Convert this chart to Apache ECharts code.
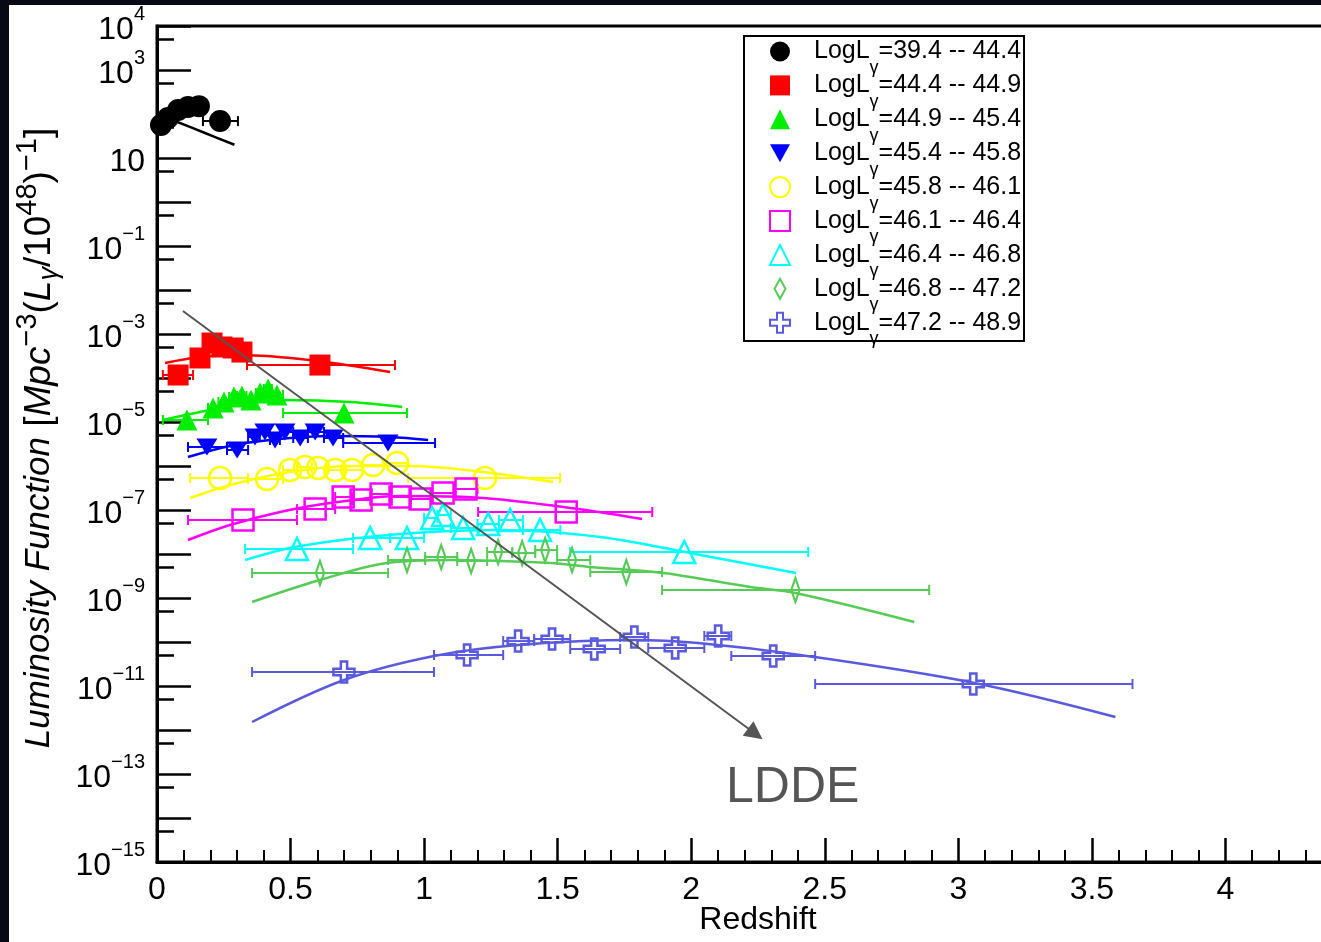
<!DOCTYPE html>
<html><head><meta charset="utf-8">
<script src="https://cdn.jsdelivr.net/npm/echarts@6/dist/echarts.min.js"></script>
<style>
html,body{margin:0;padding:0;background:#070914;width:1321px;height:942px;overflow:hidden;}
#c{position:absolute;left:9px;top:5px;width:1312px;height:937px;background:#fff;}
</style></head><body><div id="c"></div>
<script>
// ---------- legend / band labels ----------
const bandNames = ['39.4 -- 44.4','44.4 -- 44.9','44.9 -- 45.4','45.4 -- 45.8','45.8 -- 46.1','46.1 -- 46.4','46.4 -- 46.8','46.8 -- 47.2','47.2 -- 48.9'];

// ---------- axis ticks ----------
const xTickLabels = [0,0.5,1,1.5,2,2.5,3,3.5,4];
const yLabelValues = [1e4,1e3,1e1,1e-1,1e-3,1e-5,1e-7,1e-9,1e-11,1e-13,1e-15];
const yMajorTicks = [1e4,1e3,1e2,1e1,1e0,1e-1,1e-2,1e-3,1e-4,1e-5,1e-6,1e-7,1e-8,1e-9,1e-10,1e-11,1e-12,1e-13,1e-14,1e-15];
const yMinorTicks = [5e3,5e2,5e1,5e0,5e-1,5e-2,5e-3,5e-4,5e-5,5e-6,5e-7,5e-8,5e-9,5e-10,5e-11,5e-12,5e-13,5e-14,5e-15];

// ---------- band 1 : LogL 39.4 -- 44.4 ----------
const b1X = [0.015, 0.041, 0.079, 0.116, 0.157, 0.236];
const b1Y = [56, 81, 123, 145, 151, 69];
const b1Lo = [0.0, 0.028, 0.06, 0.097, 0.136, 0.172];
const b1Hi = [0.028, 0.06, 0.097, 0.136, 0.172, 0.303];
const b1FitX = [0.06, 0.175, 0.29];
const b1FitY = [72, 38, 20];
// ---------- band 2 ----------
const b2X = [0.079, 0.161, 0.206, 0.243, 0.285, 0.318, 0.610];
const b2Y = [1.17e-4, 2.85e-4, 6.24e-4, 5.07e-4, 4.81e-4, 3.89e-4, 1.97e-4];
const b2Lo = [0.022, 0.135, 0.185, 0.225, 0.265, 0.30, 0.337];
const b2Hi = [0.135, 0.185, 0.225, 0.265, 0.30, 0.337, 0.891];
const b2FitX = [0.030, 0.161, 0.311, 0.498, 0.685, 0.873];
const b2FitY = [2.19e-4, 3.0e-4, 3.33e-4, 2.85e-4, 2.08e-4, 1.37e-4];
// ---------- band 3 ----------
const b3X = [0.112, 0.210, 0.251, 0.288, 0.318, 0.352, 0.386, 0.416, 0.449, 0.700];
const b3Y = [1.11e-5, 2.08e-5, 2.85e-5, 3.70e-5, 3.90e-5, 3.16e-5, 4.56e-5, 5.62e-5, 4.11e-5, 1.60e-5];
const b3Lo = [0.022, 0.191, 0.23, 0.27, 0.30, 0.335, 0.37, 0.40, 0.43, 0.472];
const b3Hi = [0.191, 0.23, 0.27, 0.30, 0.335, 0.37, 0.40, 0.43, 0.472, 0.936];
const b3FitX = [0.022, 0.161, 0.348, 0.472, 0.723, 0.918];
const b3FitY = [1.11e-5, 1.69e-5, 2.70e-5, 3.16e-5, 2.85e-5, 2.19e-5];
// ---------- band 4 ----------
const b4X = [0.187, 0.300, 0.367, 0.404, 0.442, 0.479, 0.536, 0.592, 0.659, 0.865];
const b4Y = [2.70e-6, 2.31e-6, 4.56e-6, 5.93e-6, 3.90e-6, 5.93e-6, 4.33e-6, 5.93e-6, 4.33e-6, 3.33e-6];
const b4Lo = [0.116, 0.262, 0.341, 0.385, 0.423, 0.46, 0.51, 0.565, 0.625, 0.697];
const b4Hi = [0.262, 0.341, 0.385, 0.423, 0.46, 0.51, 0.565, 0.625, 0.697, 1.041];
const b4FitX = [0.116, 0.273, 0.423, 0.648, 0.873, 1.015];
const b4FitY = [1.60e-6, 2.85e-6, 3.90e-6, 4.81e-6, 4.56e-6, 3.90e-6];
// ---------- band 5 ----------
const b5X = [0.236, 0.412, 0.498, 0.554, 0.603, 0.667, 0.730, 0.809, 0.899, 1.228];
const b5Y = [5.33e-7, 5.07e-7, 8.11e-7, 9.48e-7, 9.02e-7, 8.11e-7, 8.11e-7, 1.05e-6, 1.17e-6, 5.33e-7];
const b5Lo = [0.124, 0.341, 0.472, 0.525, 0.58, 0.635, 0.70, 0.77, 0.85, 0.94];
const b5Hi = [0.341, 0.472, 0.525, 0.58, 0.635, 0.70, 0.77, 0.85, 0.94, 1.509];
const b5FitX = [0.124, 0.236, 0.348, 0.498, 0.723, 0.948, 1.221, 1.483];
const b5FitY = [1.87e-7, 3.16e-7, 4.81e-7, 7.31e-7, 1.0e-6, 1.0e-6, 7.31e-7, 4.33e-7];
// ---------- band 6 ----------
const b6X = [0.322, 0.592, 0.697, 0.764, 0.839, 0.910, 0.985, 1.071, 1.157, 1.532];
const b6Y = [5.93e-8, 1.05e-7, 1.97e-7, 1.69e-7, 2.31e-7, 1.97e-7, 1.78e-7, 2.43e-7, 3.0e-7, 9.02e-8];
const b6Lo = [0.116, 0.524, 0.667, 0.73, 0.80, 0.875, 0.95, 1.03, 1.115, 1.202];
const b6Hi = [0.524, 0.667, 0.73, 0.80, 0.875, 0.95, 1.03, 1.115, 1.20, 1.854];
const b6FitX = [0.116, 0.273, 0.461, 0.648, 0.910, 1.161, 1.521, 1.816];
const b6FitY = [2.08e-8, 4.56e-8, 9.02e-8, 1.44e-7, 2.08e-7, 1.97e-7, 1.17e-7, 6.24e-8];
// ---------- band 7 ----------
const b7X = [0.524, 0.798, 0.936, 1.030, 1.071, 1.146, 1.240, 1.322, 1.434, 1.974];
const b7Y = [1.30e-8, 2.31e-8, 2.31e-8, 6.58e-8, 7.69e-8, 3.90e-8, 4.81e-8, 5.93e-8, 3.51e-8, 1.11e-8];
const b7Lo = [0.330, 0.734, 0.873, 1.0, 1.05, 1.1, 1.2, 1.28, 1.37, 1.547];
const b7Hi = [0.734, 0.873, 1.0, 1.05, 1.1, 1.2, 1.28, 1.37, 1.51, 2.438];
const b7FitX = [0.330, 0.536, 0.910, 1.285, 1.659, 2.034, 2.393];
const b7FitY = [7.31e-9, 1.52e-8, 2.85e-8, 3.51e-8, 2.43e-8, 9.48e-9, 3.70e-9];
// ---------- band 8 ----------
const b8X = [0.610, 0.936, 1.064, 1.176, 1.277, 1.367, 1.453, 1.554, 1.757, 2.390];
const b8Y = [3.70e-9, 7.31e-9, 8.55e-9, 6.93e-9, 1.11e-8, 1.05e-8, 1.23e-8, 7.31e-9, 3.90e-9, 1.52e-9];
const b8Lo = [0.356, 0.865, 1.004, 1.124, 1.236, 1.330, 1.416, 1.498, 1.622, 1.891];
const b8Hi = [0.865, 1.004, 1.124, 1.236, 1.330, 1.416, 1.498, 1.622, 1.891, 2.891];
const b8FitX = [0.356, 0.610, 0.861, 1.097, 1.472, 1.622, 1.895, 2.221, 2.390, 2.835];
const b8FitY = [8.11e-10, 2.56e-9, 6.24e-9, 7.31e-9, 6.24e-9, 5.07e-9, 3.70e-9, 1.78e-9, 1.30e-9, 2.85e-10];
// ---------- band 9 ----------
const b9X = [0.700, 1.161, 1.352, 1.479, 1.637, 1.787, 1.940, 2.101, 2.307, 3.056];
const b9Y = [2.08e-11, 5.07e-11, 1.05e-10, 1.17e-10, 6.93e-11, 1.30e-10, 7.31e-11, 1.37e-10, 4.81e-11, 1.11e-11];
const b9Lo = [0.356, 1.037, 1.296, 1.412, 1.547, 1.734, 1.839, 2.049, 2.150, 2.464];
const b9Hi = [1.037, 1.296, 1.412, 1.547, 1.734, 1.839, 2.049, 2.150, 2.464, 3.652];
const b9FitX = [0.356, 0.700, 1.037, 1.352, 1.783, 2.026, 2.408, 3.060, 3.588];
const b9FitY = [1.52e-12, 1.37e-11, 4.81e-11, 8.55e-11, 1.11e-10, 9.48e-11, 5.07e-11, 1.17e-11, 1.97e-12];

// ---------- LDDE arrow (data coordinates) ----------
const arrowStart = [0.097, 3.33e-3];
const arrowEnd = [2.24, 8.2e-13];

// ---------- styles ----------
const FONT = '"Liberation Sans", Arial, Helvetica, sans-serif';
const styles = [
  {color:'#000000', symbol:'circle', size:22, open:false},
  {color:'#ff0000', symbol:'rect', size:21, open:false},
  {color:'#00ee00', symbol:'triangle', size:21, open:false},
  {color:'#0000ff', symbol:'path://M0,0 L20,0 L10,18 Z', size:[21,19], open:false},
  {color:'#ffff00', symbol:'circle', size:22, open:true},
  {color:'#ff00ff', symbol:'rect', size:21, open:true},
  {color:'#00ffff', symbol:'triangle', size:22, open:true},
  {color:'#55cc55', symbol:'path://M6,0 L12,11 L6,22 L0,11 Z', size:[15,24], open:true},
  {color:'#5a5ae0', symbol:'path://M7,0 L13,0 L13,7 L20,7 L20,13 L13,13 L13,20 L7,20 L7,13 L0,13 L0,7 L7,7 Z', size:21, open:true}
];

const bands = [
  {x:b1X,y:b1Y,lo:b1Lo,hi:b1Hi,fx:b1FitX,fy:b1FitY},
  {x:b2X,y:b2Y,lo:b2Lo,hi:b2Hi,fx:b2FitX,fy:b2FitY},
  {x:b3X,y:b3Y,lo:b3Lo,hi:b3Hi,fx:b3FitX,fy:b3FitY},
  {x:b4X,y:b4Y,lo:b4Lo,hi:b4Hi,fx:b4FitX,fy:b4FitY},
  {x:b5X,y:b5Y,lo:b5Lo,hi:b5Hi,fx:b5FitX,fy:b5FitY},
  {x:b6X,y:b6Y,lo:b6Lo,hi:b6Hi,fx:b6FitX,fy:b6FitY},
  {x:b7X,y:b7Y,lo:b7Lo,hi:b7Hi,fx:b7FitX,fy:b7FitY},
  {x:b8X,y:b8Y,lo:b8Lo,hi:b8Hi,fx:b8FitX,fy:b8FitY},
  {x:b9X,y:b9Y,lo:b9Lo,hi:b9Hi,fx:b9FitX,fy:b9FitY}
];

const series = [];
bands.forEach((b, i) => {
  const st = styles[i];
  series.push({
    name: 'fit' + i, type: 'line', z: 2, smooth: 0.35, showSymbol: false, silent: true,
    data: b.fx.map((v, k) => [v, b.fy[k]]),
    lineStyle: {color: st.color, width: 2.5}
  });
  series.push({
    name: 'err' + i, type: 'custom', z: 3, silent: true,
    data: b.x.map((v, k) => [b.lo[k], b.hi[k], b.y[k]]),
    encode: {x: [0, 1], y: 2},
    renderItem: (params, api) => {
      const p0 = api.coord([api.value(0), api.value(2)]);
      const p1 = api.coord([api.value(1), api.value(2)]);
      const s = {stroke: st.color, lineWidth: 2};
      const c = 5;
      return {type: 'group', children: [
        {type: 'line', shape: {x1: p0[0], y1: p0[1], x2: p1[0], y2: p1[1]}, style: s},
        {type: 'line', shape: {x1: p0[0], y1: p0[1] - c, x2: p0[0], y2: p0[1] + c}, style: s},
        {type: 'line', shape: {x1: p1[0], y1: p1[1] - c, x2: p1[0], y2: p1[1] + c}, style: s}
      ]};
    }
  });
  series.push({
    name: bandNames[i], type: 'scatter', z: 4, silent: true,
    symbol: st.symbol, symbolSize: st.size, symbolKeepAspect: true,
    data: b.x.map((v, k) => [v, b.y[k]]),
    itemStyle: st.open
      ? {color: 'rgba(255,255,255,0)', borderColor: st.color, borderWidth: 2.5, opacity: 1}
      : {color: st.color, opacity: 1}
  });
});

series.push({
  name: 'arrow', type: 'line', z: 6, data: [], silent: true,
  markLine: {
    silent: true, symbol: ['none', 'triangle'], symbolSize: 18,
    label: {show: false},
    lineStyle: {color: '#555555', width: 2, type: 'solid'},
    emphasis: {disabled: true},
    data: [[{coord: arrowStart}, {coord: arrowEnd}]]
  }
});

const supFmt = v => {
  const e = Math.round(Math.log10(v));
  if (e === 1) return '{b|10}';
  return '{b|10}{s|' + (e < 0 ? '\u2212' + (-e) : e) + '}';
};

const option = {
  animation: false,
  backgroundColor: '#ffffff',
  textStyle: {fontFamily: FONT},
  grid: {left: 148, top: 21, width: 1202, height: 836, show: true, borderColor: '#000', borderWidth: 3,
         backgroundColor: 'transparent', containLabel: false, outerBoundsMode: 'none'},
  legend: {
    orient: 'vertical', left: 734, top: 30, itemGap: -4.1, itemWidth: 20, itemHeight: 20, z: 8,
    padding: [4, 2, 0, 26], borderWidth: 0, backgroundColor: 'transparent',
    selectedMode: false, data: bandNames,
    formatter: n => '{sp|}{a|LogL}{g|\u03b3}{a|=' + n + '}',
    textStyle: {color: '#000', fontSize: 25, fontFamily: FONT,
      rich: {sp: {width: 19}, a: {fontSize: 25, color: '#000', fontFamily: FONT},
             g: {fontSize: 18, lineHeight: 1, padding: [20, 0, 0, 0], verticalAlign: 'top', color: '#000', fontFamily: FONT}}}
  },
  xAxis: {
    type: 'value', min: 0, max: 4.5, interval: 0.5,
    axisLine: {show: true, onZero: false, lineStyle: {color: '#000', width: 3}},
    axisTick: {show: true, inside: true, length: 24, lineStyle: {color: '#000', width: 2.5}},
    minorTick: {show: true, splitNumber: 5, length: 12, lineStyle: {color: '#000', width: 2}},
    axisLabel: {customValues: xTickLabels, fontSize: 32, color: '#000', margin: 12, fontFamily: FONT},
    splitLine: {show: false}, minorSplitLine: {show: false},
    name: 'Redshift', nameLocation: 'middle', nameGap: 42, nameMoveOverlap: false,
    nameTextStyle: {fontSize: 32, color: '#000', lineHeight: 32, fontFamily: FONT}
  },
  yAxis: [{
    type: 'log', logBase: 10, min: 9.999e-16, max: 1.0001e4, position: 'left',
    axisLine: {show: true, lineStyle: {color: '#000', width: 3}},
    axisTick: {show: true, inside: true, length: 34, customValues: yMajorTicks, lineStyle: {color: '#000', width: 2.5}},
    minorTick: {show: false}, splitLine: {show: false},
    axisLabel: {customValues: yLabelValues, formatter: supFmt, margin: 12, color: '#000',
      hideOverlap: false, showMinLabel: true, showMaxLabel: true,
      rich: {b: {fontSize: 32, lineHeight: 28, padding: [8, 0, 0, 0], color: '#000', fontFamily: FONT},
             s: {fontSize: 20, lineHeight: 16, padding: [0, 0, 24, 0], color: '#000', fontFamily: FONT}}},
    name: '{i|Luminosity Function}{n| [}{j|Mpc}{sup|\u22123}{n|(}{j|L}{sub|\u03b3}{n|/10}{sup|48}{n|)}{sup|\u22121}{n|]}',
    nameLocation: 'middle', nameGap: 99, nameRotate: 90, nameMoveOverlap: false,
    nameTextStyle: {color: '#000', padding: [0, 0, 0, 12], rich: {
      i: {fontSize: 35, fontStyle: 'italic', color: '#000', fontFamily: FONT},
      j: {fontSize: 37, fontStyle: 'italic', color: '#000', fontFamily: FONT},
      n: {fontSize: 37, color: '#000', fontFamily: FONT},
      sup: {fontSize: 29, lineHeight: 29, padding: [0, 0, 24, 0], color: '#000', fontFamily: FONT},
      sub: {fontSize: 27, lineHeight: 27, fontStyle: 'italic', padding: [20, 0, 0, 0], color: '#000', fontFamily: FONT}
    }}
  }, {
    type: 'log', logBase: 10, min: 9.999e-16, max: 1.0001e4, position: 'left',
    axisLine: {show: false},
    axisTick: {show: true, inside: true, length: 17, customValues: yMinorTicks, lineStyle: {color: '#000', width: 2.5}},
    axisLabel: {show: false}, splitLine: {show: false}, minorTick: {show: false}
  }],
  graphic: [{
    type: 'rect', left: 734, top: 30, z: 5, silent: true,
    shape: {width: 280, height: 305},
    style: {fill: '#ffffff', stroke: '#000000', lineWidth: 2}
  }, {
    type: 'text', left: 717, top: 758, z: 10, silent: true,
    style: {text: 'LDDE', fontSize: 50, fill: '#555555', fontFamily: FONT}
  }],
  series: series
};

const chart = echarts.init(document.getElementById('c'), null, {renderer: 'canvas'});
chart.setOption(option);
</script></body></html>
